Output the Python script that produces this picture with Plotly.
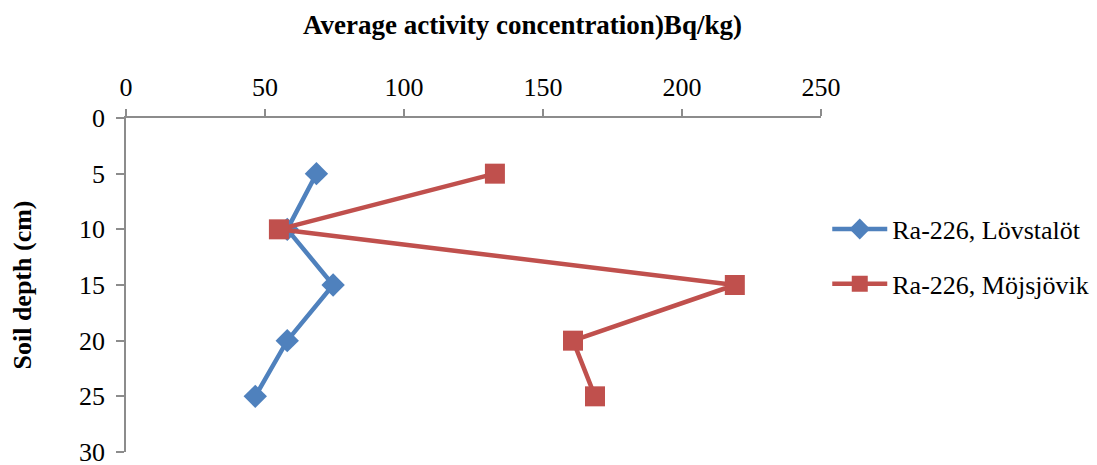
import plotly.graph_objects as go

depth = [5, 10, 15, 20, 25]
lovstalot = [68.5, 58, 74.5, 58, 46.5]
mojsjovik = [132.7, 55, 219, 160.8, 168.7]
series_names = ["Ra-226, Lövstalöt", "Ra-226, Möjsjövik"]
x_ticks = [0, 50, 100, 150, 200, 250]
y_ticks = [0, 5, 10, 15, 20, 25, 30]

FONT = "Liberation Serif"
fig = go.Figure()
fig.add_trace(go.Scatter(
    x=lovstalot, y=depth, mode="lines+markers", name=series_names[0],
    line=dict(color="#4F81BD", width=4.5),
    marker=dict(symbol="diamond", size=18, color="#4F81BD"),
    legendgroup="a"))
fig.add_trace(go.Scatter(
    x=mojsjovik, y=depth, mode="lines+markers", name=series_names[1],
    line=dict(color="#C0504D", width=4.5),
    marker=dict(symbol="square", size=20, color="#C0504D"),
    legendgroup="b"))

fig.update_layout(
    width=1097, height=465,
    margin=dict(l=126, r=276, t=118, b=13, autoexpand=False),
    plot_bgcolor="white", paper_bgcolor="white",
    font=dict(family=FONT, size=26, color="black"),
    showlegend=True,
    legend=dict(x=1.009, y=0.585, xanchor="left", yanchor="middle",
                font=dict(family=FONT, size=26, color="black"), tracegroupgap=18,
                itemwidth=55, bgcolor="rgba(0,0,0,0)"),
    xaxis=dict(range=[0, 250], side="top", tickvals=x_ticks, automargin=False,
               showline=True, linecolor="#8c8c8c", linewidth=1.5,
               ticks="outside", ticklen=7, tickcolor="#8c8c8c", tickwidth=1.5,
               showgrid=False, zeroline=False, ticklabeloverflow="allow",
               tickfont=dict(family=FONT, size=26, color="black"), ticklabelstandoff=3),
    yaxis=dict(range=[30, 0], tickvals=y_ticks, automargin=False,
               showline=True, linecolor="#8c8c8c", linewidth=1.5,
               ticks="outside", ticklen=8, tickcolor="#8c8c8c", tickwidth=1.5,
               showgrid=False, zeroline=False, ticklabeloverflow="allow",
               tickfont=dict(family=FONT, size=26, color="black"), ticklabelstandoff=6,
               title=dict(text="<b>Soil depth (cm)</b>",
                          font=dict(family=FONT, size=26, color="black"), standoff=40)),
    annotations=[dict(text="<b>Average activity concentration)Bq/kg)</b>",
                      xref="paper", yref="paper", x=0.571, y=1.0, yshift=93,
                      xanchor="center", yanchor="middle", showarrow=False,
                      font=dict(family=FONT, size=27, color="black"))],
)
fig.write_html("out.html")
